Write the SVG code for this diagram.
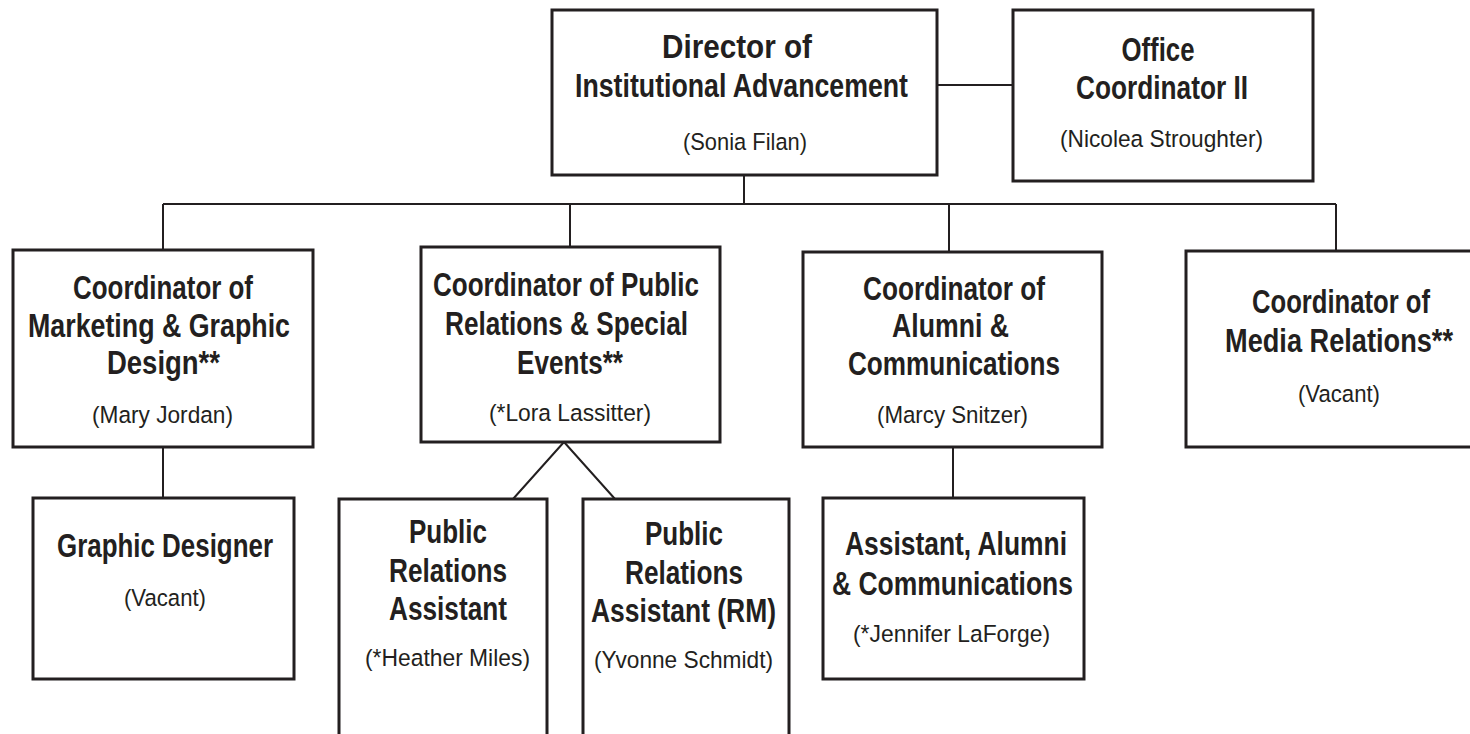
<svg xmlns="http://www.w3.org/2000/svg" width="1470" height="734" viewBox="0 0 1470 734">
<style>
.box{fill:#fff;stroke:#231f20;stroke-width:3}
.con{fill:none;stroke:#231f20;stroke-width:2}
.t{font-family:"Liberation Sans",Arial,sans-serif;font-weight:bold;font-size:33px;fill:#231f20;text-anchor:middle}
.n{font-family:"Liberation Sans",Arial,sans-serif;font-size:24.5px;fill:#231f20;text-anchor:middle}
</style>
<rect width="1470" height="734" fill="#fff"/>
<g id="connectors">
<path class="con" d="M937 85H1013"/>
<path class="con" d="M744 175V204"/>
<path class="con" d="M163 204H1336"/>
<path class="con" d="M163 204V250M570 204V247M949 204V252M1336 204V251"/>
<path class="con" d="M163 447V498"/>
<path class="con" d="M564 442L513 499M564 442L615 499"/>
<path class="con" d="M953 447V498"/>
</g>
<g id="director">
<rect class="box" x="552" y="10" width="385" height="165"/>
<text class="t" x="737" y="58" textLength="150" lengthAdjust="spacingAndGlyphs">Director of</text>
<text class="t" x="741.5" y="97" textLength="333" lengthAdjust="spacingAndGlyphs">Institutional Advancement</text>
<text class="n" x="745" y="150" textLength="124" lengthAdjust="spacingAndGlyphs">(Sonia Filan)</text>
</g>
<g id="office">
<rect class="box" x="1013" y="10" width="300" height="171"/>
<text class="t" x="1158" y="61" textLength="73" lengthAdjust="spacingAndGlyphs">Office</text>
<text class="t" x="1162" y="99" textLength="172" lengthAdjust="spacingAndGlyphs">Coordinator II</text>
<text class="n" x="1161.5" y="147" textLength="203" lengthAdjust="spacingAndGlyphs">(Nicolea Stroughter)</text>
</g>
<g id="marketing">
<rect class="box" x="13" y="250" width="300" height="197"/>
<text class="t" x="163" y="299" textLength="180" lengthAdjust="spacingAndGlyphs">Coordinator of</text>
<text class="t" x="159" y="337" textLength="262" lengthAdjust="spacingAndGlyphs">Marketing &amp; Graphic</text>
<text class="t" x="163.5" y="374" textLength="113" lengthAdjust="spacingAndGlyphs">Design**</text>
<text class="n" x="162.5" y="423" textLength="141" lengthAdjust="spacingAndGlyphs">(Mary Jordan)</text>
</g>
<g id="public-relations">
<rect class="box" x="421" y="247" width="299" height="195"/>
<text class="t" x="566" y="296" textLength="266" lengthAdjust="spacingAndGlyphs">Coordinator of Public</text>
<text class="t" x="566.5" y="335" textLength="243" lengthAdjust="spacingAndGlyphs">Relations &amp; Special</text>
<text class="t" x="570" y="374" textLength="106" lengthAdjust="spacingAndGlyphs">Events**</text>
<text class="n" x="570" y="421" textLength="162" lengthAdjust="spacingAndGlyphs">(*Lora Lassitter)</text>
</g>
<g id="alumni">
<rect class="box" x="803" y="252" width="299" height="195"/>
<text class="t" x="954" y="300" textLength="182" lengthAdjust="spacingAndGlyphs">Coordinator of</text>
<text class="t" x="950.5" y="337" textLength="117" lengthAdjust="spacingAndGlyphs">Alumni &amp;</text>
<text class="t" x="954" y="375" textLength="212" lengthAdjust="spacingAndGlyphs">Communications</text>
<text class="n" x="952.5" y="423" textLength="151" lengthAdjust="spacingAndGlyphs">(Marcy Snitzer)</text>
</g>
<g id="media">
<rect class="box" x="1186" y="251" width="310" height="196"/>
<text class="t" x="1341" y="313" textLength="178" lengthAdjust="spacingAndGlyphs">Coordinator of</text>
<text class="t" x="1339" y="352" textLength="228" lengthAdjust="spacingAndGlyphs">Media Relations**</text>
<text class="n" x="1339" y="402" textLength="82" lengthAdjust="spacingAndGlyphs">(Vacant)</text>
</g>
<g id="graphic-designer">
<rect class="box" x="33" y="498" width="261" height="181"/>
<text class="t" x="165" y="557" textLength="216" lengthAdjust="spacingAndGlyphs">Graphic Designer</text>
<text class="n" x="165" y="606" textLength="82" lengthAdjust="spacingAndGlyphs">(Vacant)</text>
</g>
<g id="pr-assistant-1">
<rect class="box" x="339" y="499" width="208" height="260"/>
<text class="t" x="448" y="543" textLength="78" lengthAdjust="spacingAndGlyphs">Public</text>
<text class="t" x="448" y="582" textLength="118" lengthAdjust="spacingAndGlyphs">Relations</text>
<text class="t" x="448" y="620" textLength="118" lengthAdjust="spacingAndGlyphs">Assistant</text>
<text class="n" x="447.5" y="666" textLength="165" lengthAdjust="spacingAndGlyphs">(*Heather Miles)</text>
</g>
<g id="pr-assistant-2">
<rect class="box" x="583" y="499" width="206" height="260"/>
<text class="t" x="684" y="545" textLength="78" lengthAdjust="spacingAndGlyphs">Public</text>
<text class="t" x="684" y="584" textLength="118" lengthAdjust="spacingAndGlyphs">Relations</text>
<text class="t" x="683.5" y="622" textLength="185" lengthAdjust="spacingAndGlyphs">Assistant (RM)</text>
<text class="n" x="683.5" y="668" textLength="179" lengthAdjust="spacingAndGlyphs">(Yvonne Schmidt)</text>
</g>
<g id="alumni-assistant">
<rect class="box" x="823" y="498" width="261" height="181"/>
<text class="t" x="956" y="555" textLength="222" lengthAdjust="spacingAndGlyphs">Assistant, Alumni</text>
<text class="t" x="952.5" y="595" textLength="241" lengthAdjust="spacingAndGlyphs">&amp; Communications</text>
<text class="n" x="951.5" y="642" textLength="197" lengthAdjust="spacingAndGlyphs">(*Jennifer LaForge)</text>
</g>
</svg>
